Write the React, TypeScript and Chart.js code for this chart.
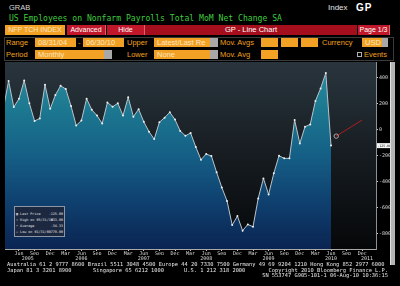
import React, { useEffect, useRef } from 'react';
import { Chart, registerables } from 'chart.js';

Chart.register(...registerables);

// Month index: 0 = Jan 2005
const startMonth = 2; // Mar 2005
const payrollChange = [
  160, 372, 172, 235, 376, 200, 64, 84, 343, 158,
  264, 335, 310, 180, 30, 68, 236, 150, 106, 45, 206, 174,
  200, 106, 246, 97, 155, 58, -18, -75, 55, 90, 131, 75,
  -12, -50, -28, -136, -233, -190, -205, -330, -447, -550, -736, -667,
  -779, -731, -749, -531, -377, -500, -338, -203, -223, -223, 72, -108,
  20, 38, 218, 315, 433, -125,
];
const xRange = [2.31, 73.65];
const yRange = [-920, 518];
const yTicks = [-800, -600, -400, -200, 0, 200, 400];
const monthNames = ['Jan', 'Feb', 'Mar', 'Apr', 'May', 'Jun', 'Jul', 'Aug', 'Sep', 'Oct', 'Nov', 'Dec'];
const monthTicks = [5, 8, 11, 14, 17, 20, 23, 26, 29, 32, 35, 38, 41, 44, 47, 50, 53, 56, 59, 62, 65, 68, 71];
const yearLabels = ['2005', '2006', '2007', '2008', '2009', '2010', '2011'];
const yearLabelPos = [6.7, 17, 29, 41, 53, 65, 71.9];
const arrowX = [66, 71];
const arrowY = [-52, 72];
const legendRows = [
  { icon: '▣', label: 'Last Price', value: '-125.00' },
  { icon: '↑', label: 'High on 05/31/10', value: '433.00' },
  { icon: '•', label: 'Average', value: '-34.33' },
  { icon: '↓', label: 'Low on 01/31/09', value: '-779.00' },
];

const MONO = '"DejaVu Sans Mono", monospace';
const SANS = '"Liberation Sans", Arial, sans-serif';
const ORANGE = '#f0a020';
const BOXBG = '#f2a125';

const abs = (left: number, top: number, width?: number, height?: number): React.CSSProperties => ({
  position: 'absolute', left, top, width, height,
});

function Field({ x, y, w, text, drop }: { x: number; y: number; w: number; text?: string; drop?: number }) {
  return (
    <div style={{ ...abs(x, y, w, 9), background: BOXBG, overflow: 'hidden' }}>
      {text && (
        <div style={{ ...abs(3, 0), lineHeight: '9px', fontSize: 7.5, color: '#fde6c0', fontFamily: SANS, whiteSpace: 'pre' }}>{text}</div>
      )}
      {drop ? <div style={{ ...abs(w - drop, 0, drop, 9), background: '#a8a8a8' }} /> : null}
    </div>
  );
}

function Label({ x, y, text, color = ORANGE }: { x: number; y: number; text: string; color?: string }) {
  return (
    <div style={{ ...abs(x, y), lineHeight: '9px', fontSize: 7.5, color, fontFamily: SANS, whiteSpace: 'pre' }}>{text}</div>
  );
}

function Btn({ x, w, text, bg }: { x: number; w: number; text: string; bg: string }) {
  return (
    <div style={{ ...abs(x, 25, w, 10), background: bg, color: '#ffffff', fontFamily: SANS, fontSize: 7, lineHeight: '10px', textAlign: 'center', whiteSpace: 'pre', boxSizing: 'border-box', borderRight: '1px solid #e06070' }}>{text}</div>
  );
}

export default function App() {
  const canvasRef = useRef<HTMLCanvasElement | null>(null);

  useEffect(() => {
    const canvas = canvasRef.current;
    if (!canvas) return;

    const bgPlugin = {
      id: 'plotBg',
      beforeDraw(chart: any) {
        const { ctx, chartArea } = chart;
        if (!chartArea) return;
        const { left, top, right, bottom } = chartArea;
        const g = ctx.createLinearGradient(0, top, 0, bottom);
        g.addColorStop(0, '#29343c');
        g.addColorStop(0.2, '#222c33');
        g.addColorStop(0.45, '#181e23');
        g.addColorStop(0.75, '#0e1215');
        g.addColorStop(1, '#060708');
        ctx.save();
        ctx.fillStyle = g;
        ctx.fillRect(left, top, right - left, bottom - top);
        ctx.restore();
      },
    };

    const lastTag = {
      id: 'lastTag',
      afterDraw(chart: any) {
        const ys = chart.scales.y;
        const last = payrollChange[payrollChange.length - 1];
        const py = ys.getPixelForValue(last);
        const { ctx } = chart;
        ctx.save();
        ctx.fillStyle = '#f4f4f4';
        ctx.fillRect(ys.left + 1, py - 2.5, 14, 5);
        ctx.fillStyle = '#101010';
        ctx.font = `3.2px ${MONO}`;
        ctx.textBaseline = 'middle';
        ctx.textAlign = 'left';
        ctx.fillText(last.toFixed(2), ys.left + 1.5, py + 0.3);
        ctx.restore();
      },
    };

    const tickFont = { family: MONO, size: 5 };

    const chart = new Chart(canvas, {
      type: 'line',
      data: {
        datasets: [
          {
            data: payrollChange.map((v, i) => ({ x: startMonth + i, y: v })),
            borderColor: '#b9c3ca',
            borderWidth: 1,
            pointRadius: 1,
            pointBackgroundColor: '#f0f0f0',
            pointBorderWidth: 0,
            tension: 0,
            fill: 'start',
            backgroundColor: (c: any) => {
              const area = c.chart.chartArea;
              if (!area) return '#1a6a88';
              const g = c.chart.ctx.createLinearGradient(0, area.top, 0, area.bottom);
              g.addColorStop(0, '#2a8fa0');
              g.addColorStop(0.25, '#1c7890');
              g.addColorStop(0.5, '#155f86');
              g.addColorStop(0.75, '#0f406f');
              g.addColorStop(1, '#0a2452');
              return g;
            },
          },
          {
            data: arrowX.map((x, i) => ({ x, y: arrowY[i] })),
            borderColor: '#b01c1c',
            borderWidth: 1,
            pointRadius: [2.2, 0],
            pointBorderColor: '#b8a0a0',
            pointBorderWidth: 1,
            pointBackgroundColor: 'rgba(0,0,0,0)',
            fill: false,
          },
        ],
      },
      options: {
        animation: false,
        responsive: false,
        maintainAspectRatio: false,
        layout: { padding: { left: 5, top: 62, right: 10, bottom: 25 } },
        plugins: { legend: { display: false }, tooltip: { enabled: false } },
        scales: {
          x: {
            type: 'linear',
            position: 'bottom',
            min: xRange[0],
            max: xRange[1],
            afterBuildTicks: (s: any) => { s.ticks = monthTicks.map((v) => ({ value: v })); },
            afterFit: (s: any) => { s.height = 6; },
            ticks: {
              autoSkip: false,
              maxRotation: 0,
              padding: 0,
              color: '#dcdcdc',
              font: tickFont,
              callback: (v: any) => monthNames[((Number(v) % 12) + 12) % 12],
            },
            grid: { drawOnChartArea: false, tickLength: 2, color: '#c8c8c8' },
            border: { color: '#a8a8a8' },
          },
          x2: {
            type: 'linear',
            position: 'bottom',
            min: xRange[0],
            max: xRange[1],
            afterBuildTicks: (s: any) => { s.ticks = yearLabelPos.map((v) => ({ value: v })); },
            afterFit: (s: any) => { s.height = 6; },
            ticks: {
              autoSkip: false,
              maxRotation: 0,
              padding: 1,
              color: '#dcdcdc',
              font: tickFont,
              callback: (_v: any, i: number) => yearLabels[i],
            },
            grid: { display: false, drawTicks: false },
            border: { display: false },
          },
          y: {
            type: 'linear',
            position: 'right',
            min: yRange[0],
            max: yRange[1],
            afterBuildTicks: (s: any) => { s.ticks = yTicks.map((v) => ({ value: v })); },
            afterFit: (s: any) => { s.width = 14; },
            ticks: { padding: 1, color: '#dcdcdc', font: tickFont, callback: (v: any) => String(v) },
            grid: { drawOnChartArea: false, tickLength: 2, color: '#d0d0d0' },
            border: { color: '#8a9096' },
          },
        },
      },
      plugins: [bgPlugin, lastTag],
    } as any);

    return () => chart.destroy();
  }, []);

  return (
    <div style={{ ...abs(0, 0, 400, 286), background: '#000', overflow: 'hidden', fontFamily: SANS }}>
      {/* top line */}
      <div style={{ ...abs(9, 3), fontSize: 7.5, lineHeight: '9px', color: '#d8d8d8', fontFamily: SANS }}>GRAB</div>
      <div style={{ ...abs(328, 3), fontSize: 8, lineHeight: '10px', color: '#e4e4e4', fontFamily: SANS }}>Index</div>
      <div style={{ ...abs(356, 2), fontSize: 10, lineHeight: '11px', color: '#ffffff', fontWeight: 'bold', letterSpacing: 1, fontFamily: SANS }}>GP</div>
      <div style={{ ...abs(9, 13), fontSize: 8.1, lineHeight: '10px', color: '#3fcc3f', fontFamily: MONO, whiteSpace: 'pre' }}>
        US Employees on Nonfarm Payrolls Total MoM Net Change SA
      </div>

      {/* toolbar */}
      <div style={{ ...abs(5, 25, 60, 10), background: BOXBG, color: '#fde6c0', fontSize: 7, lineHeight: '10px', textAlign: 'center', fontFamily: SANS, whiteSpace: 'pre' }}>NFP TCH INDEX</div>
      <Btn x={67} w={39} text="Advanced" bg="#c0182a" />
      <Btn x={107} w={38} text="Hide" bg="#c0182a" />
      <div style={{ ...abs(145, 25, 212, 10), background: '#a50f1d', color: '#ffffff', fontSize: 7.5, lineHeight: '10px', textAlign: 'center', fontFamily: SANS }}>GP - Line Chart</div>
      <Btn x={358} w={32} text="Page 1/3" bg="#c0182a" />

      {/* settings rows */}
      <div style={{ ...abs(4, 37, 390, 24), border: '1px solid #3a3a3a', boxSizing: 'border-box' }} />
      <Label x={6} y={38} text="Range" />
      <Field x={35} y={38} w={41} text="08/31/04" />
      <Label x={78} y={38} text="-" />
      <Field x={83} y={38} w={41} text="06/30/10" />
      <Label x={127} y={38} text="Upper" />
      <Field x={154} y={38} w={64} text="Latest/Last Re" drop={8} />
      <Label x={220} y={38} text="Mov. Avgs" />
      <Field x={261} y={38} w={17} />
      <Field x={281} y={38} w={17} />
      <Field x={301} y={38} w={17} />
      <Label x={322} y={38} text="Currency" />
      <Field x={362} y={38} w={26} text="USD" drop={6} />

      <Label x={6} y={50} text="Period" />
      <Field x={35} y={50} w={77} text="Monthly" drop={8} />
      <Label x={127} y={50} text="Lower" />
      <Field x={154} y={50} w={64} text="None" drop={8} />
      <Label x={220} y={50} text="Mov. Avg" />
      <Field x={261} y={50} w={17} />
      <div style={{ ...abs(357, 52, 5, 5), border: '1px solid #b0b0b0', boxSizing: 'border-box' }} />
      <Label x={364} y={50} text="Events" />

      {/* chart */}
      <canvas ref={canvasRef} width={400} height={286} style={{ ...abs(0, 0, 400, 286), display: 'block' }} />

      {/* scrollbar */}
      <div style={{ ...abs(390, 62, 5, 203), background: '#b4b4b4', borderLeft: '1px solid #e0e0e0', boxSizing: 'border-box' }} />

      {/* legend box */}
      <div style={{ ...abs(14, 206, 51, 31), background: '#1c2840', border: '1px solid #8c96a4', boxSizing: 'border-box', fontFamily: MONO, fontSize: 3.4, color: '#e4e4e4' }}>
        {legendRows.map((r, i) => (
          <div key={i} style={{ ...abs(1, 3.5 + i * 6.2, 47, 6), lineHeight: '6px', whiteSpace: 'pre' }}>
            <span>{r.icon} {r.label}</span>
            <span style={{ position: 'absolute', right: 0 }}>{r.value}</span>
          </div>
        ))}
      </div>

      {/* footer */}
      <div style={{ ...abs(7, 261.3), fontFamily: MONO, fontSize: 5.36, lineHeight: '6px', color: '#e8e8e8', whiteSpace: 'pre' }}>
        Australia 61 2 9777 8600 Brazil 5511 3048 4500 Europe 44 20 7330 7500 Germany 49 69 9204 1210 Hong Kong 852 2977 6000
      </div>
      <div style={{ ...abs(7, 267), fontFamily: MONO, fontSize: 5.36, lineHeight: '6px', color: '#e8e8e8', whiteSpace: 'pre' }}>Japan 81 3 3201 8900</div>
      <div style={{ ...abs(93, 267), fontFamily: MONO, fontSize: 5.36, lineHeight: '6px', color: '#e8e8e8', whiteSpace: 'pre' }}>Singapore 65 6212 1000</div>
      <div style={{ ...abs(184, 267), fontFamily: MONO, fontSize: 5.36, lineHeight: '6px', color: '#e8e8e8', whiteSpace: 'pre' }}>U.S. 1 212 318 2000</div>
      <div style={{ position: 'absolute', right: 12, top: 267, fontFamily: MONO, fontSize: 5.36, lineHeight: '6px', color: '#e8e8e8', whiteSpace: 'pre' }}>Copyright 2010 Bloomberg Finance L.P.</div>
      <div style={{ position: 'absolute', right: 12, top: 272.3, fontFamily: MONO, fontSize: 5.36, lineHeight: '6px', color: '#e8e8e8', whiteSpace: 'pre' }}>SN 553747 G905-101-1 06-Aug-10 10:36:15</div>
    </div>
  );
}
